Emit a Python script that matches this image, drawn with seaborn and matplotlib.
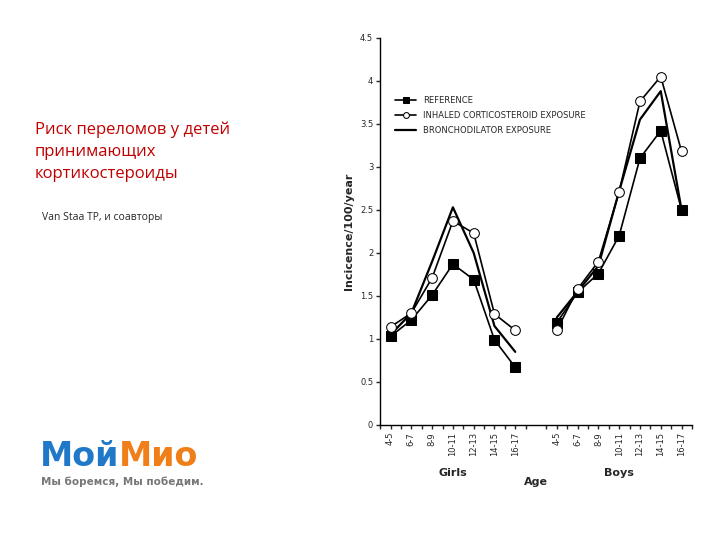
import numpy as np
import pandas as pd
import matplotlib
matplotlib.use("Agg")
import matplotlib.pyplot as plt
import seaborn as sns

ages = ["4-5", "6-7", "8-9", "10-11", "12-13", "14-15", "16-17"]
girls_ref = [1.03, 1.22, 1.51, 1.87, 1.69, 0.99, 0.67]
girls_ics = [1.14, 1.30, 1.71, 2.37, 2.23, 1.29, 1.10]
girls_bronch = [1.05, 1.30, 1.90, 2.53, 2.00, 1.15, 0.85]
boys_ref = [1.19, 1.54, 1.76, 2.20, 3.10, 3.42, 2.50]
boys_ics = [1.10, 1.58, 1.90, 2.71, 3.76, 4.05, 3.18]
boys_bronch = [1.25, 1.55, 1.85, 2.72, 3.55, 3.88, 2.50]

sns.set_theme(style="white")
plt.rcParams["font.family"] = ["DejaVu Sans"]

fig = plt.figure(figsize=(7.2, 5.4), dpi=100)
ax = fig.add_axes([0.528, 0.213, 0.433, 0.717])

gx = np.arange(7)
bx = np.arange(8, 15)
rows = []
for grp, xs, r, i, b in [("g", gx, girls_ref, girls_ics, girls_bronch),
                         ("b", bx, boys_ref, boys_ics, boys_bronch)]:
    for x, a, c, d in zip(xs, r, i, b):
        rows.append({"grp": grp, "x": x, "ref": a, "ics": c, "bronch": d})
df = pd.DataFrame(rows)

for k, (grp, sub) in enumerate(df.groupby("grp", sort=False)):
    lab = k == 0
    sns.lineplot(data=sub, x="x", y="bronch", ax=ax, color="black", lw=1.6,
                 label="BRONCHODILATOR EXPOSURE" if lab else None)
    sns.lineplot(data=sub, x="x", y="ref", ax=ax, color="black", lw=1.2, marker="s",
                 markersize=7, markerfacecolor="black", markeredgecolor="black",
                 label="REFERENCE" if lab else None)
    sns.lineplot(data=sub, x="x", y="ics", ax=ax, color="black", lw=1.2, marker="o",
                 markersize=7, markerfacecolor="white", markeredgecolor="black",
                 label="INHALED CORTICOSTEROID EXPOSURE" if lab else None)

h, l = ax.get_legend_handles_labels()
order = [l.index("REFERENCE"), l.index("INHALED CORTICOSTEROID EXPOSURE"),
         l.index("BRONCHODILATOR EXPOSURE")]
ax.legend([h[o] for o in order], [l[o] for o in order], loc="upper left",
          bbox_to_anchor=(0.03, 0.865), frameon=False, fontsize=6, handlelength=2.5,
          labelspacing=0.7, markerscale=0.6, borderpad=0.2)

ax.set_xlim(-0.37, 14.2)
ax.set_ylim(0, 4.5)
ax.set_yticks(np.arange(0, 4.51, 0.5))
ax.set_yticklabels(["0", "0.5", "1", "1.5", "2", "2.5", "3", "3.5", "4", "4.5"], fontsize=6)
ax.set_xticks(list(gx) + list(bx))
ax.set_xticklabels(ages + ages, rotation=90, fontsize=6)
ax.set_xticks(np.arange(-0.5, 14.6, 1), minor=True)
ax.tick_params(axis="both", which="both", direction="out", length=3, width=1,
               bottom=True, left=True, pad=2)
for s in ["top", "right"]:
    ax.spines[s].set_visible(False)
for s in ["left", "bottom"]:
    ax.spines[s].set_color("black")
    ax.spines[s].set_linewidth(1)
ax.set_xlabel("")
ax.set_ylabel("Incicence/100/year", fontsize=8, fontweight="bold")
ax.text(3, -0.5, "Girls", ha="center", va="top", fontsize=8, fontweight="bold",
        clip_on=False)
ax.text(11, -0.5, "Boys", ha="center", va="top", fontsize=8, fontweight="bold",
        clip_on=False)
ax.text(7, -0.6, "Age", ha="center", va="top", fontsize=8, fontweight="bold",
        clip_on=False)

fig.text(0.048, 0.775, "Риск переломов у детей\nпринимающих\nкортикостероиды",
         color="#C00000", fontsize=12, va="top", ha="left", linespacing=1.5,
         family=["Open Sans"])
fig.text(0.058, 0.608, "Van Staa TP, и соавторы", fontsize=7.5, va="top",
         family=["Open Sans"])
t1 = fig.text(0.055, 0.125, "Мой", color="#1F78C8", fontsize=24,
              fontweight="bold", family=["DejaVu Sans"], va="bottom")
fig.canvas.draw()
bb = t1.get_window_extent().transformed(fig.transFigure.inverted())
fig.text(bb.x1, bb.y0, "Мио", color="#F07F1A", fontsize=24, fontweight="bold",
         family=["DejaVu Sans"], va="bottom")
fig.text(0.057, 0.098, "Мы боремся, Мы победим.", color="#777777",
         fontsize=7.5, fontweight="bold", va="bottom")

fig.savefig("out.png", dpi=100)
